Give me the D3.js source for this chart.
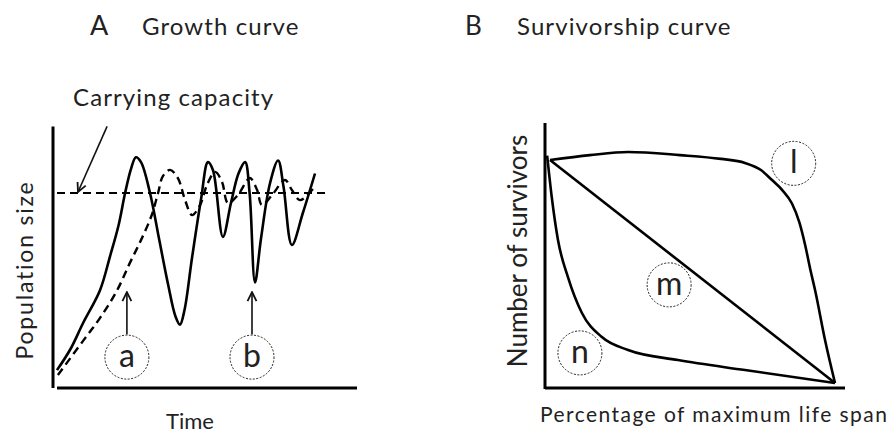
<!DOCTYPE html>
<html>
<head>
<meta charset="utf-8">
<script src="https://cdn.jsdelivr.net/npm/d3@7"></script>
<style>
  html, body { margin: 0; padding: 0; background: #fff; }
  svg { display: block; }
  text { font-family: Lato, "Open Sans", sans-serif; fill: #222; }
</style>
</head>
<body>
<svg id="chart" width="890" height="434"></svg>
<script>
// ---- Panel A: growth curves (time vs population size) ----
const carryingCapacity = 60;

// Oscillating growth that overshoots the carrying capacity (solid, "b")
const growthOscillating = [
  [0, 5.5], [4.5, 12], [8.7, 20], [14.3, 30], [17.7, 40.6], [20.5, 50], [22.7, 60],
  [24.7, 67.5], [26.3, 71], [28, 69.5], [31, 60], [34, 46], [37, 32], [39.5, 22],
  [41, 19.5], [42.5, 24], [45, 40], [48, 58], [50.3, 69.5], [52, 67], [55.3, 46.5],
  [58, 57], [60.5, 66], [62.7, 69.5], [64.2, 60], [66, 32.5], [68, 46], [71, 63],
  [73.7, 70], [75.5, 62], [78.3, 44], [82, 54], [86, 66]
];

// Logistic growth that settles around the carrying capacity (dashed, "a")
const growthLogistic = [
  [0.3, 4], [8.7, 14.5], [14.3, 21.5], [20, 30], [24.3, 38.5], [28, 45.5], [31.5, 53],
  [33.7, 60], [35.3, 65.2], [37.7, 67.1], [40.3, 64.6], [42.7, 57.8], [45, 53.2],
  [47.7, 56.3], [50, 62.5], [52.7, 66.5], [55, 63.4], [57, 56.9], [60.3, 59.4],
  [64.3, 64.6], [66.7, 60.9], [68.3, 56.3], [71.7, 59.4], [76, 64], [78.3, 60.9],
  [81, 57.8], [86, 62]
];

// Curve markers: label, time position, arrow tip / tail (population units)
const growthMarkers = [
  { label: "a", t: 23.3, tip: 29.5, tail: 16.5, circle: 9.5 },
  { label: "b", t: 65, tip: 29.5, tail: 16.5, circle: 9.5 }
];

// ---- Panel B: survivorship curves (% of max life span vs survivors) ----
const survivorshipL = [
  [0, 100], [14, 102.2], [27.4, 103.6], [45.6, 102.2], [60, 100.5], [68.4, 98.7],
  [74, 95.5], [77.9, 91], [81.5, 86.5], [84.9, 80.5], [87.5, 72], [89.5, 62],
  [91.5, 50], [93, 41.7], [96.5, 19.3], [100, 0]
];
const survivorshipM = [[0, 100], [100, 0]];
const survivorshipN = [
  [-1, 102], [0.7, 82.5], [2.8, 64.1], [6.3, 47.5], [11.2, 31.4], [18.2, 20.6],
  [27.4, 14.8], [44.9, 10.3], [68.4, 5.8], [100, 0]
];
const survivorshipLabels = [
  { label: "l", x: 85.5, y: 98.5 },
  { label: "m", x: 41.8, y: 44 },
  { label: "n", x: 10.5, y: 13.5 }
];

const svg = d3.select("#chart");

// arrowhead marker
svg.append("defs").append("marker")
  .attr("id", "head")
  .attr("viewBox", "0 0 10 10")
  .attr("refX", 9).attr("refY", 5)
  .attr("markerWidth", 7).attr("markerHeight", 7)
  .attr("orient", "auto-start-reverse")
  .append("path")
  .attr("d", "M1,1 L9,5 L1,9")
  .attr("fill", "none")
  .attr("stroke", "#111")
  .attr("stroke-width", 1.6);

// ================= Panel A =================
const xA = d3.scaleLinear().domain([0, 100]).range([57, 357]);
const yA = d3.scaleLinear().domain([0, 80]).range([388, 128]);
const gA = svg.append("g");

gA.append("text").attr("x", 90).attr("y", 35).attr("font-size", 27).text("A");
gA.append("text").attr("x", 142).attr("y", 35).attr("font-size", 24)
  .attr("letter-spacing", 1.1).text("Growth curve");
gA.append("text").attr("x", 73).attr("y", 106).attr("font-size", 24)
  .attr("letter-spacing", 1.1).text("Carrying capacity");

// axes
gA.append("line").attr("x1", xA(0) - 4).attr("x2", xA(0) - 4)
  .attr("y1", yA(80.5)).attr("y2", yA(0))
  .attr("stroke", "#000").attr("stroke-width", 3);
gA.append("line").attr("x1", xA(0)).attr("x2", xA(100))
  .attr("y1", yA(0)).attr("y2", yA(0))
  .attr("stroke", "#000").attr("stroke-width", 3);

// carrying capacity line
gA.append("line")
  .attr("x1", xA(0)).attr("x2", xA(91))
  .attr("y1", yA(carryingCapacity)).attr("y2", yA(carryingCapacity))
  .attr("stroke", "#000").attr("stroke-width", 2.2)
  .attr("stroke-dasharray", "8,5");

// pointer from label to the carrying capacity line
gA.append("line")
  .attr("x1", xA(16.7)).attr("y1", yA(80.5))
  .attr("x2", xA(7)).attr("y2", yA(carryingCapacity) - 1)
  .attr("stroke", "#111").attr("stroke-width", 1.6)
  .attr("marker-end", "url(#head)");

const lineA = d3.line()
  .x(d => xA(d[0])).y(d => yA(d[1]))
  .curve(d3.curveCatmullRom.alpha(0.5));

gA.append("path").datum(growthOscillating)
  .attr("d", lineA)
  .attr("fill", "none").attr("stroke", "#000").attr("stroke-width", 2.6)
  .attr("stroke-linejoin", "round");

gA.append("path").datum(growthLogistic)
  .attr("d", lineA)
  .attr("fill", "none").attr("stroke", "#000").attr("stroke-width", 2.4)
  .attr("stroke-dasharray", "8,5");

growthMarkers.forEach(m => {
  gA.append("line")
    .attr("x1", xA(m.t)).attr("x2", xA(m.t))
    .attr("y1", yA(m.tail)).attr("y2", yA(m.tip))
    .attr("stroke", "#111").attr("stroke-width", 1.6)
    .attr("marker-end", "url(#head)");
  gA.append("circle")
    .attr("cx", xA(m.t)).attr("cy", yA(m.circle))
    .attr("r", 22)
    .attr("fill", "none").attr("stroke", "#222").attr("stroke-width", 1)
    .attr("stroke-dasharray", "2,1.5");
  gA.append("text")
    .attr("x", xA(m.t)).attr("y", yA(m.circle) + 10)
    .attr("text-anchor", "middle").attr("font-size", 32)
    .text(m.label);
});

gA.append("text").attr("x", 190).attr("y", 429)
  .attr("text-anchor", "middle").attr("font-size", 22).text("Time");
gA.append("text")
  .attr("transform", "translate(33,270) rotate(-90)")
  .attr("text-anchor", "middle").attr("font-size", 23)
  .attr("letter-spacing", 1.8)
  .text("Population size");

// ================= Panel B =================
const xB = d3.scaleLinear().domain([0, 100]).range([550, 835]);
const yB = d3.scaleLinear().domain([0, 100]).range([383, 160]);
const gB = svg.append("g");

gB.append("text").attr("x", 465).attr("y", 35).attr("font-size", 26).text("B");
gB.append("text").attr("x", 517).attr("y", 35).attr("font-size", 24)
  .attr("letter-spacing", 1.1).text("Survivorship curve");

gB.append("line").attr("x1", 545).attr("x2", 545)
  .attr("y1", 123).attr("y2", 389)
  .attr("stroke", "#000").attr("stroke-width", 3);
gB.append("line").attr("x1", 545).attr("x2", 845)
  .attr("y1", 388).attr("y2", 388)
  .attr("stroke", "#000").attr("stroke-width", 3);

const lineB = d3.line()
  .x(d => xB(d[0])).y(d => yB(d[1]))
  .curve(d3.curveMonotoneX);

[survivorshipL, survivorshipM, survivorshipN].forEach(series => {
  gB.append("path").datum(series)
    .attr("d", lineB)
    .attr("fill", "none").attr("stroke", "#000").attr("stroke-width", 2.6)
    .attr("stroke-linejoin", "round");
});

survivorshipLabels.forEach(m => {
  gB.append("circle")
    .attr("cx", xB(m.x)).attr("cy", yB(m.y))
    .attr("r", 22)
    .attr("fill", "none")
    .attr("stroke", "#222").attr("stroke-width", 1)
    .attr("stroke-dasharray", "2,1.5");
  gB.append("text")
    .attr("x", xB(m.x)).attr("y", yB(m.y) + 10)
    .attr("text-anchor", "middle").attr("font-size", 32)
    .text(m.label);
});

gB.append("text")
  .attr("transform", "translate(527,251) rotate(-90)")
  .attr("text-anchor", "middle").attr("font-size", 26)
  .text("Number of survivors");
gB.append("text").attr("x", 540).attr("y", 422)
  .attr("font-size", 21).attr("letter-spacing", 1.45)
  .text("Percentage of maximum life span");
</script>
</body>
</html>
